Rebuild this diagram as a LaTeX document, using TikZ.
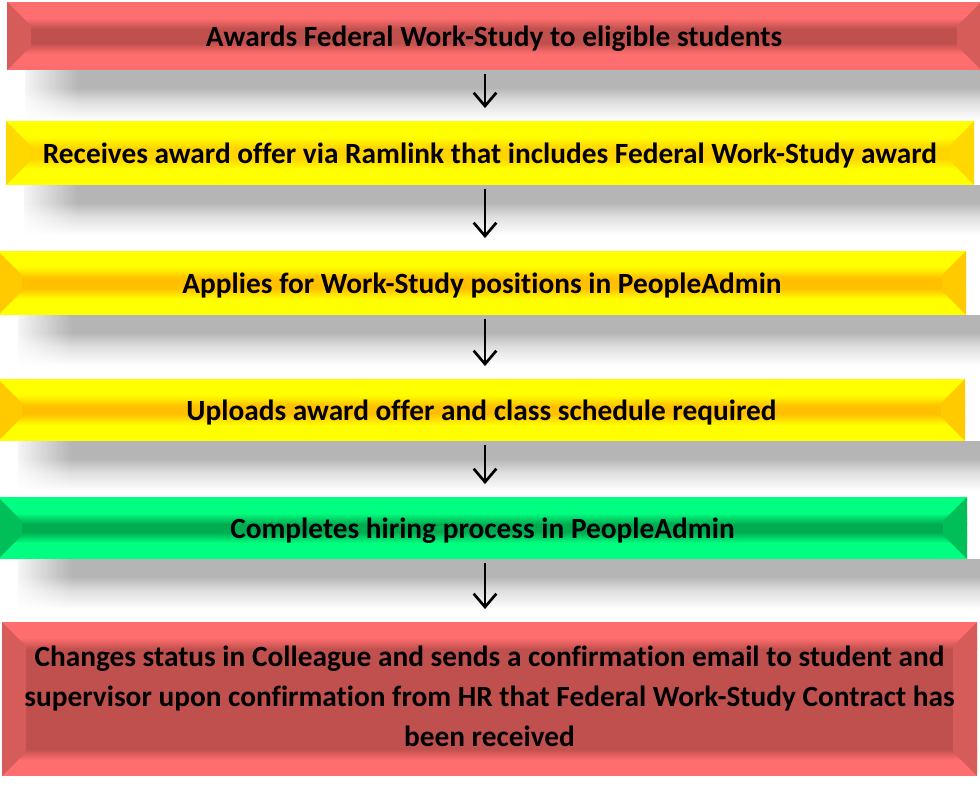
\documentclass[tikz,border=0pt]{standalone}
\usepackage{fontspec}
\setmainfont{Carlito}[Ligatures=NoCommon]
\usetikzlibrary{arrows.meta,calc,fadings}

% box palettes: edge band, middle band, side facet
\definecolor{redEdge}{HTML}{FF6E6E}
\definecolor{redMid}{HTML}{C0504D}
\definecolor{redSide}{HTML}{D65C59}
\definecolor{yelEdge}{HTML}{FFFF00}
\definecolor{yelMid}{HTML}{FFD400}
\definecolor{yelSide}{HTML}{FFD800}
\definecolor{ambEdge}{HTML}{FFFF00}
\definecolor{ambMid}{HTML}{FFC000}
\definecolor{ambSide}{HTML}{FFCA00}
\definecolor{grnEdge}{HTML}{00FF80}
\definecolor{grnMid}{HTML}{00AC50}
\definecolor{grnSide}{HTML}{00BE58}
\definecolor{shgray}{HTML}{B5B5B5}

% soft drop shadow falling below a box; the path covers 25bp..75bp (0bp is the bottom)
\pgfdeclareverticalshading{shadowfall}{100bp}{color(0bp)=(white); color(27bp)=(white); color(45bp)=(shgray!45!white); color(58bp)=(shgray); color(100bp)=(shgray)}
\tikzfading[name=leftsoft, left color=transparent!0, right color=transparent!100]

\tikzset{
  bevelbox/.style n args={3}{
    rectangle, inner sep=0pt, align=center, text=black,
    font=\bfseries\fontsize{22}{30}\selectfont,
    path picture={
      \coordinate (nw) at (path picture bounding box.north west);
      \coordinate (ne) at (path picture bounding box.north east);
      \coordinate (sw) at (path picture bounding box.south west);
      \coordinate (se) at (path picture bounding box.south east);
      \fill[#2] (nw) rectangle (se);
      \fill[#1] (nw) rectangle ($(ne)+(0,16)$);
      \shade[top color=#1, bottom color=#2] ($(nw)+(0,16)$) rectangle ($(ne)+(0,27)$);
      \fill[#1] ($(sw)+(0,-16)$) rectangle (se);
      \shade[top color=#2, bottom color=#1] ($(sw)+(0,-27)$) rectangle ($(se)+(0,-16)$);
      \fill[#3] (nw) -- ($(nw)+(24,24)$) -- ($(sw)+(24,-24)$) -- (sw) -- cycle;
      \fill[#3] (ne) -- ($(ne)+(-24,24)$) -- ($(se)+(-24,-24)$) -- (se) -- cycle;
    }
  },
  oneline/.style={text depth=-0.6pt},
  flowarrow/.style={line width=2pt, -{Straight Barb[length=10pt,width=17pt]},
    shorten <=3pt, shorten >=9.5pt},
  dropshade/.style={shading=shadowfall},
  shadowedge/.style={fill=white, path fading=leftsoft}
}

\begin{document}
\begin{tikzpicture}[x=0.75pt, y=-0.75pt]
  \useasboundingbox (0,0) rectangle (980,785);
  \clip (0,0) rectangle (980,785);
  \fill[white] (0,0) rectangle (980,785);

  % shadows under the first five boxes
  \foreach \l/\b in {7/70, 6/185, 0/315, 0/441, 0/559}{
    \shade[dropshade] (\l+18,\b) rectangle (995,\b+52);
    \fill[shadowedge] (\l+10,\b) rectangle (\l+72,\b+52);
  }

  \node[bevelbox={redEdge}{redMid}{redSide}, oneline, minimum width=730.5pt, minimum height=51pt]
    (b1) at (494,36) {Awards Federal Work-Study to eligible students};
  \node[bevelbox={yelEdge}{yelMid}{yelSide}, oneline, minimum width=726pt, minimum height=48pt]
    (b2) at (490,153) {Receives award offer via Ramlink that includes Federal Work-Study award};
  \node[bevelbox={ambEdge}{ambMid}{ambSide}, oneline, minimum width=726pt, minimum height=48pt]
    (b3) at (482,283) {Applies for Work-Study positions in PeopleAdmin};
  \node[bevelbox={ambEdge}{ambMid}{ambSide}, oneline, minimum width=725.25pt, minimum height=46.5pt]
    (b4) at (481.5,410) {Uploads award offer and class schedule required};
  \node[bevelbox={grnEdge}{grnMid}{grnSide}, oneline, minimum width=726.75pt, minimum height=46.5pt]
    (b5) at (482.5,528) {Completes hiring process in PeopleAdmin};
  \node[bevelbox={redEdge}{redMid}{redSide}, text depth=4.5pt, minimum width=731.25pt, minimum height=115.5pt]
    (b6) at (489.5,699) {Changes status in Colleague and sends a confirmation email to student and\\
     supervisor upon confirmation from HR that Federal Work-Study Contract has\\
     been received};

  % step arrows, all on one vertical line
  \coordinate (ax) at (485,0);
  \draw[flowarrow] (b1.south -| ax) -- (b2.north -| ax);
  \draw[flowarrow] (b2.south -| ax) -- (b3.north -| ax);
  \draw[flowarrow] (b3.south -| ax) -- (b4.north -| ax);
  \draw[flowarrow] (b4.south -| ax) -- (b5.north -| ax);
  \draw[flowarrow] (b5.south -| ax) -- (b6.north -| ax);
\end{tikzpicture}
\end{document}
